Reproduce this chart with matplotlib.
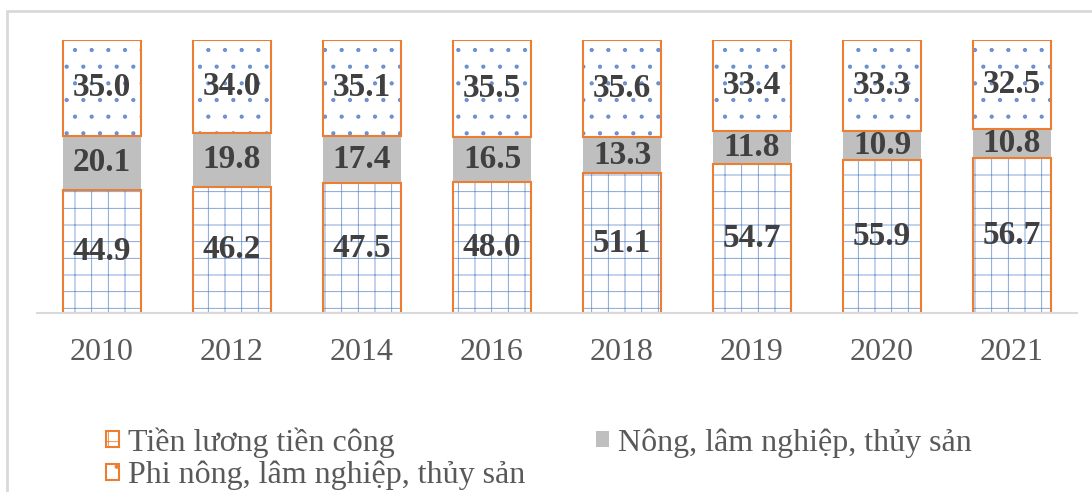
import numpy as np
import matplotlib.pyplot as plt
from matplotlib.patches import Rectangle, Patch

# --- Datos ---
years = ['2010', '2012', '2014', '2016', '2018', '2019', '2020', '2021']
tien_luong = [44.9, 46.2, 47.5, 48.0, 51.1, 54.7, 55.9, 56.7]
nong_lam = [20.1, 19.8, 17.4, 16.5, 13.3, 11.8, 10.9, 10.8]
phi_nong = [35.0, 34.0, 35.1, 35.5, 35.6, 33.4, 33.3, 32.5]

series_names = ['Tiền lương tiền công', 'Nông, lâm nghiệp, thủy sản',
                'Phi nông, lâm nghiệp, thủy sản']

orange = '#ED7D31'
blue = (0.27, 0.45, 0.77, 0.75)
gray = '#BFBFBF'
label_col = '#404040'
tick_col = '#595959'

plt.rcParams['font.family'] = ['Liberation Serif', 'DejaVu Serif']
plt.rcParams['hatch.linewidth'] = 0.6

fig = plt.figure(figsize=(10.92, 4.92), dpi=100)
ax = fig.add_axes([37/1092, 179/492, 1040/1092, 273/492])

x = np.arange(len(years))
w = 0.6
bot = np.array(tien_luong)
mid = np.array(nong_lam)
top = np.array(phi_nong)

# relleno con trama (el color de la trama sigue a edgecolor)
ax.bar(x, bot, w, color='white', edgecolor=blue, linewidth=0, hatch='+')
ax.bar(x, mid, w, bottom=bot, color=gray, edgecolor='none')
ax.bar(x, top, w, bottom=bot + mid, color='white', edgecolor=blue, linewidth=0, hatch='.')
# contornos naranjas
ax.bar(x, bot, w, fill=False, edgecolor=orange, linewidth=1.5)
ax.bar(x, top, w, bottom=bot + mid, fill=False, edgecolor=orange, linewidth=1.5)

for i in range(len(years)):
    for v, b in [(bot[i], 0), (mid[i], bot[i]), (top[i], bot[i] + mid[i])]:
        ax.text(x[i], b + v / 2, f'{v:.1f}', ha='center', va='center',
                fontsize=24, fontweight='bold', color=label_col)

ax.set_xlim(-0.5, len(years) - 0.5)
ax.set_ylim(0, 100)
ax.set_yticks([])
ax.set_xticks(x)
ax.set_xticklabels(years, fontsize=23, color=tick_col)
ax.tick_params(axis='x', length=0, pad=18)
for s in ['top', 'right', 'left']:
    ax.spines[s].set_visible(False)
ax.spines['bottom'].set_color('#D9D9D9')
ax.spines['bottom'].set_linewidth(1.5)

# --- Leyenda ---
handles = [
    Patch(facecolor='white', edgecolor=orange, hatch='+', linewidth=1.5),
    Patch(facecolor='white', edgecolor=orange, hatch='.', linewidth=1.5),
    Patch(facecolor=gray, edgecolor='none'),
]
labels = [series_names[0], series_names[2], series_names[1]]
leg = fig.legend(handles, labels, loc='upper left', bbox_to_anchor=(106/1092, 1 - 427/492),
                 ncol=2, frameon=False, fontsize=23, handlelength=0.4, handleheight=0.4,
                 handletextpad=0.3, columnspacing=2.2, labelspacing=0.1, borderpad=0,
                 borderaxespad=0, labelcolor=tick_col)

# marco del gráfico
fig.patches.append(Rectangle((7/1092, -0.1), 1.2, 1 - 11/492 + 0.1, transform=fig.transFigure,
                             fill=False, edgecolor='#D9D9D9', linewidth=2))

fig.savefig('out.png', dpi=100, facecolor='white')
